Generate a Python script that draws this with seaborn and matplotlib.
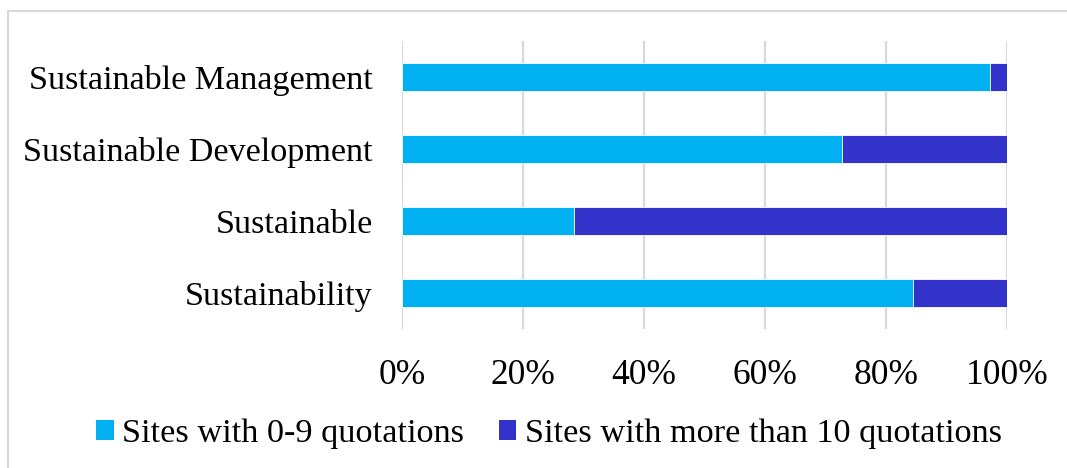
import matplotlib
matplotlib.use("Agg")
import matplotlib.pyplot as plt
from matplotlib.patches import Patch
from matplotlib.lines import Line2D
from matplotlib.ticker import FuncFormatter
import pandas as pd
import seaborn as sns

# Share of sites per search term, split by number of quotations (percent)
terms = ["Sustainable Management", "Sustainable Development", "Sustainable", "Sustainability"]
share_low = [97.2, 72.7, 28.4, 84.5]     # sites with 0-9 quotations
share_high = [2.8, 27.3, 71.6, 15.5]     # sites with more than 10 quotations
series_names = ["Sites with 0-9 quotations", "Sites with more than 10 quotations"]
tick_values = [0, 20, 40, 60, 80, 100]

color_low = "#00B0F0"
color_high = "#3333CC"
grid_color = "#D9D9D9"

sns.set_theme(style="white")
plt.rcParams["font.family"] = ["Liberation Serif", "DejaVu Serif"]

df = pd.DataFrame({"term": terms, "low": share_low, "high": share_high})
df["total"] = df["low"] + df["high"]

fig = plt.figure(figsize=(10.67, 4.68), dpi=100)
W, H = 1067, 468
ax = fig.add_axes([402 / W, 1 - 329 / H, 605 / W, 288 / H])

# stacked bars: full length in the dark colour, 0-9 share drawn over it
sns.barplot(data=df, y="term", x="total", color=color_high, orient="h",
            width=0.39, ax=ax, saturation=1, edgecolor="white", linewidth=0.6)
sns.barplot(data=df, y="term", x="low", color=color_low, orient="h",
            width=0.39, ax=ax, saturation=1, edgecolor="white", linewidth=0.6)

ax.set_xlim(0, 100)
ax.set_ylim(3.5, -0.5)
ax.set_xticks(tick_values)
ax.xaxis.set_major_formatter(FuncFormatter(lambda v, p: f"{int(v)}%"))
ax.set_xlabel("")
ax.set_ylabel("")
for v in tick_values:
    ax.axvline(v, color=grid_color, lw=1.6, zorder=0)
ax.set_axisbelow(True)
for s in ax.spines.values():
    s.set_visible(False)
ax.tick_params(axis="x", length=0, pad=21.5, labelsize=25.5, labelcolor="#000000")
ax.tick_params(axis="y", length=0, pad=21, labelsize=24.6, labelcolor="#000000")

handles = [Patch(facecolor=color_low, edgecolor="none"),
           Patch(facecolor=color_high, edgecolor="none")]
fig.legend(handles, series_names, loc="center", bbox_to_anchor=(549 / W, 1 - 434 / H),
           ncol=2, frameon=False, fontsize=24.7, handlelength=0.5, handleheight=0.5,
           handletextpad=0.24, columnspacing=1.03, labelcolor="#000000",
           borderpad=0, borderaxespad=0)

# outer chart frame
fig.add_artist(Line2D([8 / W, 1.0], [1 - 11 / H, 1 - 11 / H], color=grid_color, lw=1.5))
fig.add_artist(Line2D([8 / W, 8 / W], [0.0, 1 - 11 / H], color=grid_color, lw=1.5))

fig.savefig("out.png", dpi=100, facecolor="white")
